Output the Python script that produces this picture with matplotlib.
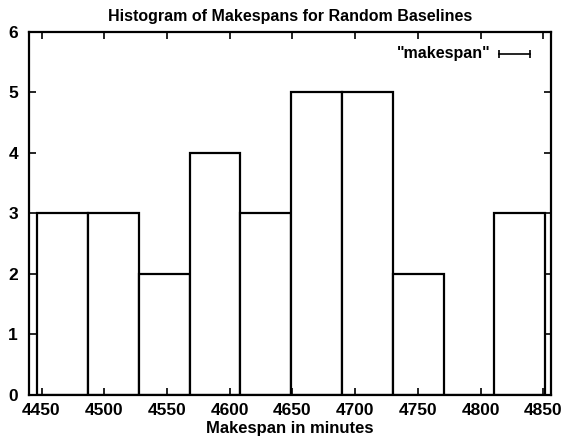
"""
Histogram of makespans for random baselines (gnuplot-style boxes).
"""
import matplotlib
matplotlib.use('Agg')
from matplotlib import pyplot as plt

# bin left edges (minutes), bin width and counts
bin_left = [4446.5, 4487.0, 4527.5, 4568.0, 4608.5, 4649.0, 4689.5, 4730.0, 4770.5, 4811.0]
bin_width = 40.5
counts = [3, 3, 2, 4, 3, 5, 5, 2, 0, 3]

x_ticks = [4450, 4500, 4550, 4600, 4650, 4700, 4750, 4800, 4850]
y_ticks = [0, 1, 2, 3, 4, 5, 6]

plt.rcParams['font.family'] = ['Liberation Sans', 'DejaVu Sans']
plt.rcParams['font.weight'] = 'bold'

fig = plt.figure(figsize=(5.72, 4.40), dpi=100)
ax = fig.add_axes([0.0507, 0.1023, 0.9123, 0.825])

ax.bar(bin_left, counts, width=bin_width, align='edge',
       facecolor='white', edgecolor='black', linewidth=1.6)

# legend entry drawn like the gnuplot key sample
ax.text(0.885, 0.94, '"makespan"', transform=ax.transAxes, ha='right', va='center',
        fontsize=11.5, fontweight='bold')
ax.plot([0.9, 0.96], [0.94, 0.94], transform=ax.transAxes, color='black', lw=1.2,
        marker='|', markersize=6, markeredgewidth=1.2)

ax.set_xlim(4440, 4856)
ax.set_ylim(0, 6)
ax.set_xticks(x_ticks)
ax.set_yticks(y_ticks)
ax.tick_params(direction='in', top=True, right=True, length=5, width=1.2,
               labelsize=12.5, pad=6)
ax.tick_params(axis='y', pad=8)
for lab in ax.get_xticklabels() + ax.get_yticklabels():
    lab.set_fontweight('bold')
for s in ax.spines.values():
    s.set_linewidth(1.6)

ax.set_title('Histogram of Makespans for Random Baselines', fontsize=11.5,
             fontweight='bold', pad=8)
ax.set_xlabel('Makespan in minutes', fontsize=12, fontweight='bold', labelpad=2)

fig.savefig('out.png', dpi=100)
